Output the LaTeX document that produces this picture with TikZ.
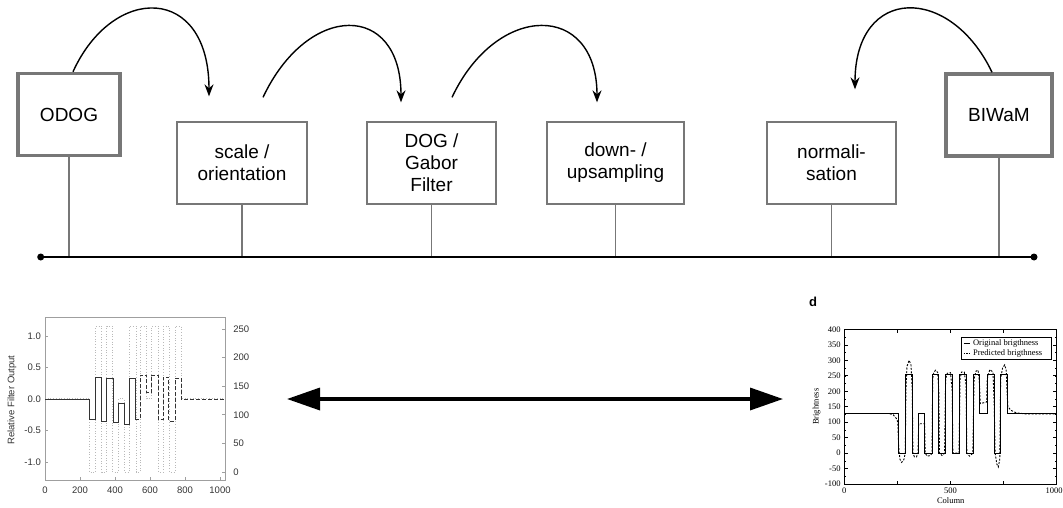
\documentclass[tikz,border=0pt]{standalone}
\usepackage{fontspec}
\setmainfont{Liberation Serif}
\setsansfont{Liberation Sans}
\usetikzlibrary{arrows.meta, calc}
\definecolor{boxgray}{HTML}{777777}
\definecolor{txtgray}{HTML}{333333}

\begin{document}
\begin{tikzpicture}[x=1pt,y=-1pt,>=Stealth,
  stage/.style={draw=boxgray,line width=1.3pt,minimum height=82pt,align=center,inner sep=0pt,font=\sffamily\fontsize{19}{22}\selectfont},
  model/.style={stage,line width=3.5pt},
  hop/.style={->,line width=1.4pt,arrows={-Stealth[length=12pt,width=9pt]}},
  axisgray/.style={draw=gray!75,line width=0.7pt},
  sflbl/.style={inner sep=0pt,text=txtgray,font=\sffamily\fontsize{9.5}{11}\selectfont},
  rmlbl/.style={inner sep=0pt,font=\rmfamily\fontsize{8.5}{10}\selectfont}]
\useasboundingbox (0,0) rectangle (1063,508);
% pipeline
\node[model,minimum width=102pt] (odog) at (69,114.5){ODOG};
\node[stage,minimum width=130pt] (scale) at (242,163){scale /\\orientation};
\node[stage,minimum width=129pt] (dog) at (431.5,163){DOG /\\Gabor\\Filter};
\node[stage,minimum width=137pt] (resample) at (615.5,163){down- /\\upsampling};
\node[stage,minimum width=129pt] (norm) at (831.5,163){normali-\\sation};
\node[model,minimum width=106pt] (biwam) at (999,115){BIWaM};
\coordinate (busL) at (40.7,257);\coordinate (busR) at (1034,257);
\foreach \n in {odog,scale,dog,resample,norm,biwam}{\draw[boxgray,line width=1.6pt] (\n.south) -- (\n.south |- busL);}
\draw[line width=1.8pt] (busL) -- (busR);\fill (busL) circle (3.5pt);\fill (busR) circle (3.5pt);
\draw[hop] ($(odog.north)+(4,0)$) .. controls +(40,-88) and +(0,-112) .. ($(scale.north)+(-33,-25)$);
\draw[hop] ($(scale.north)+(21,-24)$) .. controls +(45,-95.5) and +(0,-100.5) .. ($(dog.north)+(-30.5,-19)$);
\draw[hop] ($(dog.north)+(20.5,-24)$) .. controls +(45,-95.5) and +(0,-100.5) .. ($(resample.north)+(-18.5,-19)$);
\draw[hop] ($(biwam.north)+(-7,0)$) .. controls +(-42,-88) and +(0,-104) .. ($(norm.north)+(23.5,-32)$);
% left plot: filter output
\begin{scope}[shift={(45pt,-472pt)},x=0.175pt,y=0.572pt]
\draw[gray!55,dotted,line width=0.7pt] (0,128) -| (253,0) -| (290,255) -| (324,0) -| (352,255) -| (387,0) -| (419,128) -| (453,0) -| (482,255) -| (520,0) -| (543,255) -| (581,128) -| (610,255) -| (648,0) -| (676,255) -| (710,0) -| (743,255) -| (777,128) -- (1029,128);
\foreach \s in {0,50,...,250}{\draw[axisgray] (1029,\s) -- ++(-3pt,0pt);\node[sflbl,anchor=west,xshift=8pt] at (1029,\s){\s};}
\coordinate (lplotE) at (1029,128);
\end{scope}
\begin{scope}[shift={(45pt,-399pt)},x=0.175pt,y=63pt]
\draw[axisgray] (0,-1.29) rectangle (1029,1.3);
\foreach \v/\t in {1/1.0,0.5/0.5,0/0.0,-0.5/-0.5,-1/-1.0}{\draw[axisgray] (0,\v) -- ++(3pt,0pt);\node[sflbl,anchor=east,xshift=-4pt] at (0,\v){\t};}
\foreach \d in {0,200,...,1000}{\draw[axisgray] (\d,-1.29) -- ++(0pt,3pt);\node[sflbl,anchor=north,yshift=-6pt] at (\d,-1.29){\d};}
\draw[black!80,line width=0.9pt] (0,0) -| (253,-0.33) -| (290,0.35) -| (324,-0.35) -| (352,0.33) -| (390,-0.38) -| (419,-0.07) -| (453,-0.40) -| (482,0.33) -| (517,-0.33);
\draw[black!80,line width=0.9pt,dash pattern=on 4pt off 2pt] (517,-0.33) -| (543,0.38) -| (581,0.10) -| (610,0.38) -| (648,-0.33) -| (676,0.35) -| (707,-0.35) -| (743,0.33) -| (777,0) -- (1029,0);
\end{scope}
\node[sflbl,rotate=90] at (12,400){Relative Filter Output};
% right plot: brightness
\node[inner sep=0pt,font=\sffamily\bfseries\fontsize{13}{15}\selectfont] at (813,302){d};
\begin{scope}[shift={(844.3pt,-453.1pt)},x=0.2124pt,y=0.3094pt]
\draw[black,line width=0.7pt] (0,-100) rectangle (1000,400);
\foreach \v in {-100,-75,...,400}{\draw[line width=0.5pt] (0,\v) -- ++(2pt,0pt);\draw[line width=0.5pt] (1000,\v) -- ++(-2pt,0pt);}
\foreach \v in {-100,-50,...,400}{\draw[line width=0.6pt] (0,\v) -- ++(3.5pt,0pt);\draw[line width=0.6pt] (1000,\v) -- ++(-3.5pt,0pt);\node[rmlbl,anchor=east,xshift=-3.6pt] at (0,\v){\v};}
\foreach \d in {250,500,750}{\draw[line width=0.6pt] (\d,-100) -- ++(0pt,3.5pt);\draw[line width=0.6pt] (\d,400) -- ++(0pt,-3.5pt);}
\foreach \d in {0,500}{\node[rmlbl,anchor=north,yshift=-4pt] at (\d,-100){\d};}
\node[rmlbl,anchor=north east,yshift=-4pt] at (1029,-100){1000};
\draw[line width=0.9pt] (0,128) -| (254,0) -| (290,255) -| (321,0) -| (348,128) -| (379,0) -| (415,255) -| (445,0) -| (476,255) -| (509,0) -| (544,255) -| (575,0) -| (610,255) -| (638,128) -| (672,255) -| (705,0) -| (735,255) -| (766,128) -- (1000,128);
\draw[line width=0.9pt,dash pattern=on 2pt off 1.5pt] (0,128) -- (210,128) -- (230,124) -- (245,112) -- (252,100) -- (256,20) -- (262,-20) -- (270,-30) -- (280,-22) -- (287,0) -- (290,200) -- (295,280) -- (305,300) -- (314,285) -- (320,200) -- (323,0) -- (330,-12) -- (340,-12) -- (347,0) -- (350,95) -- (378,95) -- (381,0) -- (390,-10) -- (405,-8) -- (413,0) -- (416,240) -- (422,262) -- (430,268) -- (440,260) -- (445,200) -- (448,0) -- (460,-8) -- (472,0) -- (477,240) -- (485,258) -- (500,260) -- (508,200) -- (511,0) -- (540,0) -- (545,240) -- (552,262) -- (565,262) -- (573,220) -- (577,0) -- (590,-10) -- (605,0) -- (611,240) -- (620,265) -- (630,268) -- (636,230) -- (640,160) -- (670,165) -- (673,240) -- (685,270) -- (700,262) -- (706,150) -- (710,0) -- (718,-35) -- (725,-45) -- (732,-20) -- (736,240) -- (745,275) -- (755,285) -- (762,270) -- (766,200) -- (770,150) -- (785,138) -- (810,130) -- (850,127) -- (1000,127);
\coordinate (rplotW) at (0,128);
\end{scope}
\node[rmlbl,rotate=90] at (816.7,406.7){Brightness};
\node[rmlbl] at (950.7,501){Column};
\node[draw,line width=0.6pt,fill=white,minimum width=90.7pt,minimum height=22.3pt,inner sep=0pt] (legend) at (1006.35,348.15){};
\draw[line width=0.8pt] ($(legend.west)+(3,-5)$) -- ++(6,0) node[rmlbl,anchor=west,xshift=3pt]{Original brigthness};
\draw[line width=0.8pt,dash pattern=on 1.5pt off 1pt] ($(legend.west)+(3,5)$) -- ++(6,0) node[rmlbl,anchor=west,xshift=3pt]{Predicted brigthness};
% comparison
\coordinate (cmpL) at (287,399);\coordinate (cmpR) at (783,399);
\draw[line width=3.5pt,{Triangle[length=33pt,width=22pt]}-{Triangle[length=33pt,width=22pt]}] (cmpL) -- (cmpR);
\end{tikzpicture}
\end{document}
